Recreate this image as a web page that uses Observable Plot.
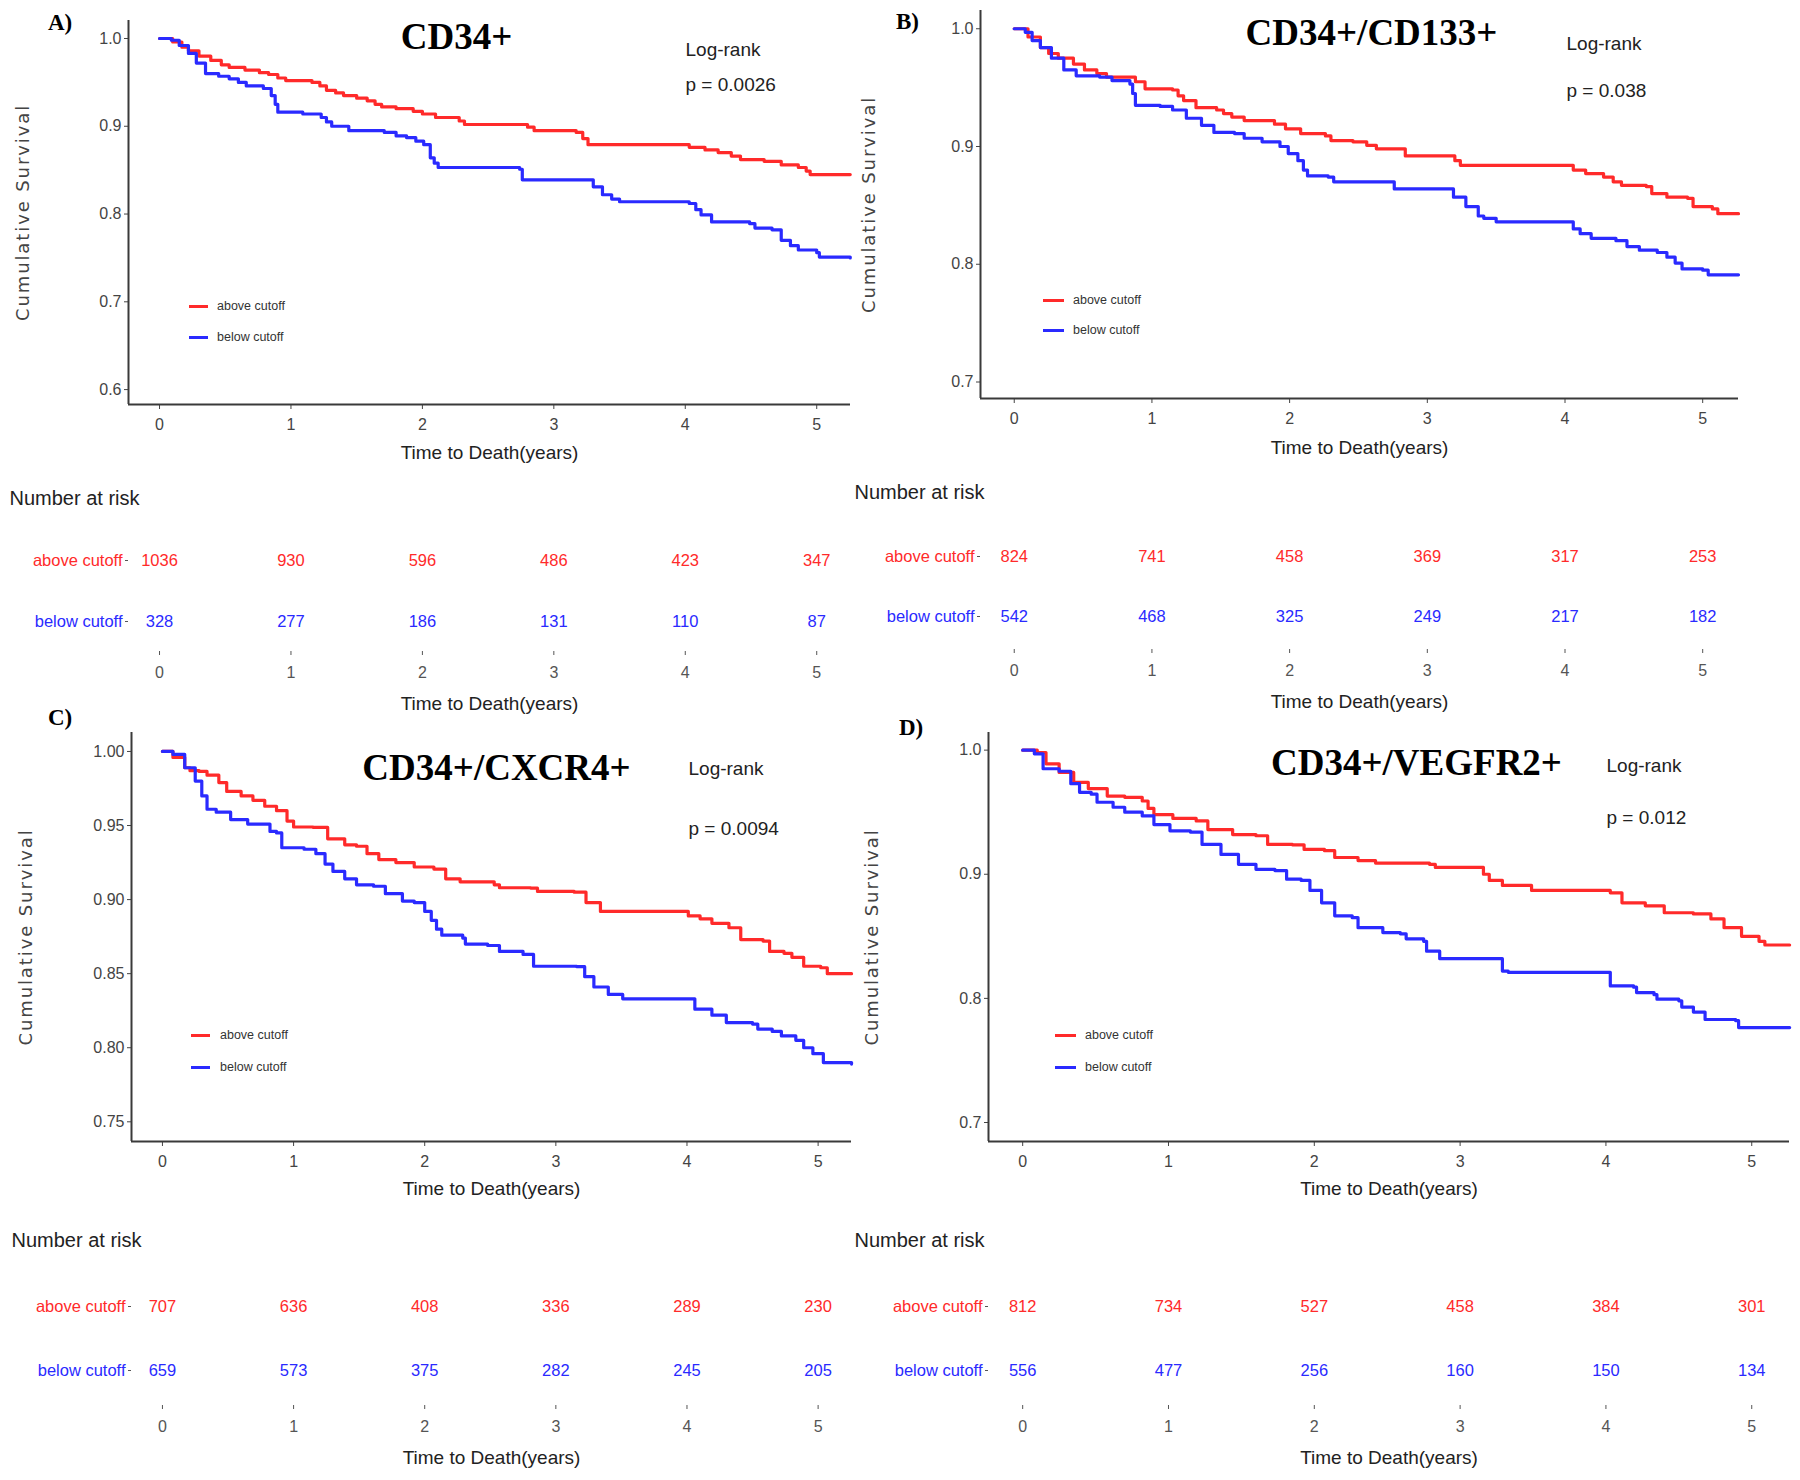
<!DOCTYPE html>
<html><head><meta charset="utf-8">
<script src="https://cdn.jsdelivr.net/npm/d3@7"></script>
<script src="https://cdn.jsdelivr.net/npm/@observablehq/plot@0.6"></script>
<style>
html,body{margin:0;padding:0;background:#fff;}
#fig{position:relative;width:1800px;height:1480px;background:#fff;overflow:hidden;}
.lg{position:absolute;height:20px;display:flex;align-items:center;font-family:"Liberation Sans",Arial,sans-serif;font-size:12.5px;color:#333;white-space:nowrap;}
.lg .sw{display:inline-block;height:3px;}
.tag{position:absolute;font-family:"Liberation Serif","Times New Roman",serif;font-weight:bold;font-size:23px;line-height:26px;color:#000;}
</style></head><body><div id="fig"></div>
<script>
// ---------------- data ----------------
const groups = ["above cutoff", "below cutoff"];
const years = [0, 1, 2, 3, 4, 5];
const titles = ["CD34+", "CD34+/CD133+", "CD34+/CXCR4+", "CD34+/VEGFR2+"];
const tags = ["A)", "B)", "C)", "D)"];
const pValues = ["p = 0.0026", "p = 0.038", "p = 0.0094", "p = 0.012"];

const riskAboveA = [1036, 930, 596, 486, 423, 347];
const riskBelowA = [328, 277, 186, 131, 110, 87];
const riskAboveB = [824, 741, 458, 369, 317, 253];
const riskBelowB = [542, 468, 325, 249, 217, 182];
const riskAboveC = [707, 636, 408, 336, 289, 230];
const riskBelowC = [659, 573, 375, 282, 245, 205];
const riskAboveD = [812, 734, 527, 458, 384, 301];
const riskBelowD = [556, 477, 256, 160, 150, 134];

const survAboveA = [[0,1.0],[0.1,0.996],[0.17,0.99],[0.22,0.986],[0.3,0.98],[0.39,0.975],[0.47,0.97],[0.53,0.967],[0.65,0.964],[0.76,0.961],[0.83,0.959],[0.9,0.955],[0.96,0.952],[1.16,0.950],[1.22,0.946],[1.27,0.941],[1.34,0.938],[1.40,0.935],[1.5,0.932],[1.58,0.929],[1.64,0.925],[1.69,0.922],[1.8,0.92],[1.93,0.917],[2.0,0.914],[2.10,0.910],[2.28,0.906],[2.32,0.902],[2.80,0.899],[2.85,0.895],[3.17,0.893],[3.22,0.886],[3.26,0.879],[3.98,0.879],[4.03,0.876],[4.15,0.873],[4.25,0.870],[4.35,0.866],[4.42,0.862],[4.6,0.860],[4.73,0.856],[4.86,0.853],[4.92,0.849],[4.95,0.845],[5.255,0.845]];
const survBelowA = [[0,1],[0.09,0.998],[0.15,0.992],[0.22,0.983],[0.28,0.972],[0.35,0.960],[0.45,0.957],[0.53,0.954],[0.6,0.95],[0.66,0.946],[0.79,0.943],[0.85,0.935],[0.88,0.925],[0.90,0.916],[1.09,0.914],[1.23,0.910],[1.27,0.905],[1.31,0.900],[1.44,0.895],[1.71,0.893],[1.80,0.889],[1.88,0.887],[1.95,0.883],[2.01,0.879],[2.06,0.864],[2.09,0.858],[2.12,0.853],[2.74,0.851],[2.76,0.839],[3.26,0.839],[3.3,0.831],[3.37,0.822],[3.44,0.817],[3.50,0.814],[4.03,0.812],[4.08,0.805],[4.12,0.799],[4.20,0.791],[4.49,0.789],[4.53,0.784],[4.66,0.782],[4.73,0.770],[4.80,0.764],[4.86,0.759],[5.0,0.756],[5.02,0.751],[5.255,0.750]];
const survAboveB = [[0,1],[0.1,0.993],[0.19,0.984],[0.25,0.979],[0.32,0.975],[0.43,0.970],[0.51,0.965],[0.6,0.962],[0.67,0.959],[0.88,0.955],[0.95,0.949],[1.15,0.948],[1.19,0.943],[1.23,0.939],[1.32,0.933],[1.47,0.931],[1.52,0.928],[1.58,0.925],[1.67,0.922],[1.89,0.919],[1.97,0.915],[2.08,0.911],[2.26,0.909],[2.30,0.905],[2.46,0.904],[2.56,0.901],[2.63,0.898],[2.80,0.898],[2.84,0.892],[3.17,0.892],[3.2,0.888],[3.24,0.884],[3.98,0.884],[4.06,0.880],[4.15,0.877],[4.28,0.874],[4.35,0.870],[4.41,0.867],[4.59,0.866],[4.63,0.860],[4.74,0.857],[4.89,0.856],[4.93,0.849],[5.07,0.847],[5.11,0.843],[5.26,0.843]];
const survBelowB = [[0,1],[0.08,0.997],[0.13,0.99],[0.19,0.984],[0.27,0.975],[0.36,0.965],[0.45,0.960],[0.62,0.959],[0.71,0.956],[0.84,0.953],[0.86,0.945],[0.88,0.935],[1.06,0.934],[1.15,0.931],[1.25,0.924],[1.36,0.918],[1.45,0.912],[1.60,0.911],[1.67,0.907],[1.80,0.904],[1.93,0.900],[1.99,0.894],[2.06,0.888],[2.10,0.88],[2.13,0.875],[2.28,0.874],[2.32,0.870],[2.74,0.870],[2.76,0.864],[3.13,0.864],[3.19,0.857],[3.28,0.849],[3.37,0.841],[3.41,0.839],[3.50,0.836],[4.00,0.836],[4.06,0.83],[4.11,0.826],[4.19,0.822],[4.37,0.820],[4.45,0.815],[4.54,0.812],[4.67,0.810],[4.74,0.806],[4.8,0.801],[4.85,0.796],[5.00,0.795],[5.04,0.791],[5.26,0.791]];
const survAboveC = [[0,1],[0.08,0.996],[0.17,0.989],[0.21,0.987],[0.28,0.9865],[0.34,0.984],[0.43,0.979],[0.49,0.973],[0.60,0.970],[0.69,0.967],[0.78,0.963],[0.87,0.960],[0.95,0.953],[1.0,0.949],[1.15,0.9487],[1.26,0.941],[1.39,0.937],[1.48,0.936],[1.56,0.931],[1.65,0.927],[1.78,0.925],[1.92,0.922],[2.07,0.9206],[2.16,0.914],[2.27,0.912],[2.53,0.910],[2.57,0.908],[2.81,0.9077],[2.86,0.9055],[3.14,0.905],[3.23,0.898],[3.34,0.892],[3.97,0.892],[4.01,0.889],[4.10,0.887],[4.19,0.884],[4.32,0.881],[4.41,0.873],[4.58,0.872],[4.63,0.865],[4.74,0.8637],[4.80,0.861],[4.89,0.855],[5.02,0.854],[5.07,0.850],[5.255,0.850]];
const survBelowC = [[0,1],[0.08,0.998],[0.17,0.989],[0.25,0.980],[0.3,0.97],[0.34,0.961],[0.41,0.959],[0.52,0.954],[0.65,0.951],[0.82,0.946],[0.87,0.945],[0.91,0.935],[1.08,0.934],[1.17,0.931],[1.24,0.924],[1.30,0.919],[1.39,0.914],[1.48,0.910],[1.61,0.909],[1.70,0.904],[1.83,0.899],[1.92,0.898],[2.00,0.892],[2.05,0.886],[2.09,0.88],[2.13,0.876],[2.29,0.874],[2.31,0.870],[2.48,0.869],[2.57,0.865],[2.75,0.863],[2.83,0.855],[3.16,0.8547],[3.22,0.848],[3.29,0.841],[3.40,0.836],[3.51,0.833],[3.99,0.833],[4.06,0.826],[4.19,0.822],[4.30,0.817],[4.50,0.816],[4.54,0.8126],[4.65,0.811],[4.72,0.808],[4.83,0.805],[4.89,0.800],[4.96,0.796],[5.04,0.790],[5.255,0.789]];
const survAboveD = [[0,1],[0.10,0.998],[0.16,0.989],[0.25,0.982],[0.35,0.974],[0.45,0.969],[0.58,0.963],[0.70,0.962],[0.82,0.959],[0.86,0.953],[0.90,0.948],[1.03,0.945],[1.19,0.943],[1.27,0.936],[1.44,0.932],[1.60,0.931],[1.68,0.924],[1.85,0.9237],[1.93,0.920],[2.07,0.919],[2.14,0.9135],[2.30,0.911],[2.42,0.909],[2.79,0.908],[2.83,0.9055],[3.12,0.9055],[3.16,0.9],[3.20,0.895],[3.29,0.891],[3.49,0.887],[4.03,0.885],[4.11,0.877],[4.27,0.8746],[4.40,0.869],[4.60,0.868],[4.72,0.864],[4.81,0.857],[4.93,0.850],[5.05,0.846],[5.09,0.843],[5.26,0.843]];
const survBelowD = [[0,1],[0.08,0.997],[0.14,0.985],[0.25,0.983],[0.33,0.973],[0.39,0.966],[0.47,0.9645],[0.51,0.958],[0.62,0.954],[0.70,0.950],[0.82,0.947],[0.90,0.940],[1.01,0.935],[1.15,0.934],[1.23,0.924],[1.36,0.916],[1.48,0.908],[1.60,0.904],[1.73,0.903],[1.81,0.896],[1.91,0.895],[1.97,0.887],[2.05,0.877],[2.14,0.8665],[2.26,0.865],[2.30,0.857],[2.47,0.853],[2.59,0.852],[2.63,0.848],[2.75,0.846],[2.77,0.838],[2.86,0.832],[3.20,0.832],[3.29,0.822],[3.33,0.821],[3.99,0.821],[4.03,0.810],[4.19,0.809],[4.21,0.8047],[4.33,0.803],[4.35,0.7994],[4.50,0.798],[4.52,0.793],[4.60,0.789],[4.68,0.783],[4.89,0.782],[4.91,0.7765],[5.26,0.7765]];

const yTicksA = [0.6, 0.7, 0.8, 0.9, 1.0];
const yTicksB = [0.7, 0.8, 0.9, 1.0];
const yTicksC = [0.75, 0.80, 0.85, 0.90, 0.95, 1.00];
const yTicksD = [0.7, 0.8, 0.9, 1.0];

// ---------------- styles & layout ----------------
const RED = "#ff2a2a", BLUE = "#2a2aff";
const SANS = '"Liberation Sans",Arial,sans-serif';
const WIDE = '"DejaVu Sans",Verdana,sans-serif';
const SERIF = '"Liberation Serif","Times New Roman",serif';

const panels = [
  {title: titles[0], tag: tags[0], p: pValues[0], above: survAboveA, below: survBelowA, rA: riskAboveA, rB: riskBelowA, yTicks: yTicksA, yFmt: ".1f"},
  {title: titles[1], tag: tags[1], p: pValues[1], above: survAboveB, below: survBelowB, rA: riskAboveB, rB: riskBelowB, yTicks: yTicksB, yFmt: ".1f"},
  {title: titles[2], tag: tags[2], p: pValues[2], above: survAboveC, below: survBelowC, rA: riskAboveC, rB: riskBelowC, yTicks: yTicksC, yFmt: ".2f"},
  {title: titles[3], tag: tags[3], p: pValues[3], above: survAboveD, below: survBelowD, rA: riskAboveD, rB: riskBelowD, yTicks: yTicksD, yFmt: ".1f"}
];

const layout = [
  {left: 0, top: 0, w: 900, h: 470, mL: 128, mR: 50, mT: 20, mB: 66, x: [-0.236, 5.257], y: [0.583, 1.0205],
   title: [328, 17], lr: [557, 29, 64], yt: -105, xt: 48, legend: [189, 208, 217, 306, 337], tag: [48, 23],
   risk: {top: 470, h: 250, rows: [90, 151], mB: 69, header: [-119, 28]}},
  {left: 840, top: 0, w: 960, h: 470, mL: 140, mR: 62, mT: 10, mB: 72, x: [-0.245, 5.26], y: [0.686, 1.0155],
   title: [391, 23], lr: [586, 33, 80], yt: -111, xt: 49, legend: [1043, 1064, 1073, 300, 330], tag: [896, 22],
   risk: {top: 470, h: 250, rows: [86, 146.5], mB: 71, header: [-126, 22]}},
  {left: 0, top: 720, w: 900, h: 480, mL: 131, mR: 49, mT: 12, mB: 59, x: [-0.236, 5.2546], y: [0.7367, 1.0128],
   title: [365, 36], lr: [557, 36, 96], yt: -105, xt: 47, legend: [191, 210, 220, 1035, 1067], tag: [48, 718],
   risk: {top: 1200, h: 280, rows: [106, 170], mB: 75, header: [-120, 40]}},
  {left: 840, top: 720, w: 960, h: 480, mL: 148, mR: 11, mT: 12, mB: 59, x: [-0.2344, 5.259], y: [0.6847, 1.0142],
   title: [428, 31], lr: [618, 33, 85], yt: -116, xt: 47, legend: [1055, 1076, 1085, 1035, 1067], tag: [899, 728],
   risk: {top: 1200, h: 280, rows: [106, 170], mB: 75, header: [-134, 40]}}
];

const fig = document.getElementById("fig");
function place(node, left, top) {
  node.style.position = "absolute";
  node.style.left = left + "px";
  node.style.top = top + "px";
  fig.appendChild(node);
}
function survTable(above, below) {
  return [
    ...above.map(([t, s]) => ({group: groups[0], t, s})),
    ...below.map(([t, s]) => ({group: groups[1], t, s}))
  ];
}
function riskTable(above, below) {
  return years.flatMap((yr, k) => [
    {group: groups[0], t: yr, n: above[k]},
    {group: groups[1], t: yr, n: below[k]}
  ]);
}
const label = d => d;

panels.forEach((P, i) => {
  const L = layout[i];
  const chart = Plot.plot({
    width: L.w, height: L.h,
    marginLeft: L.mL, marginRight: L.mR, marginTop: L.mT, marginBottom: L.mB,
    style: {fontFamily: SANS, fontSize: "16px", color: "#444", background: "transparent", overflow: "visible"},
    x: {domain: L.x, ticks: years, tickFormat: d3.format("d"), tickSize: 5, tickPadding: 9, label: null},
    y: {domain: L.y, ticks: P.yTicks, tickFormat: d3.format(P.yFmt), tickSize: 4, tickPadding: 3, label: null},
    color: {domain: groups, range: [RED, BLUE]},
    marks: [
      Plot.ruleX([L.x[0]], {stroke: "#3a3a3a", strokeWidth: 2}),
      Plot.ruleY([L.y[0]], {stroke: "#3a3a3a", strokeWidth: 2}),
      Plot.line(survTable(P.above, P.below), {x: "t", y: "s", stroke: "group", curve: "step-after", strokeWidth: 3.2}),
      Plot.text([P.title], {text: label, frameAnchor: "top-left", textAnchor: "middle", lineAnchor: "middle", dx: L.title[0], dy: L.title[1], fontFamily: SERIF, fontWeight: "bold", fontSize: 37, fill: "#000"}),
      Plot.text(["Log-rank"], {text: label, frameAnchor: "top-left", textAnchor: "start", lineAnchor: "middle", dx: L.lr[0], dy: L.lr[1], fontSize: 19, fill: "#222"}),
      Plot.text([P.p], {text: label, frameAnchor: "top-left", textAnchor: "start", lineAnchor: "middle", dx: L.lr[0], dy: L.lr[2], fontSize: 19, fill: "#222"}),
      Plot.text(["Cumulative Survival"], {text: label, frameAnchor: "left", textAnchor: "middle", lineAnchor: "middle", rotate: -90, dx: L.yt, fontFamily: WIDE, fontSize: 18, fill: "#444"}),
      Plot.text(["Time to Death(years)"], {text: label, frameAnchor: "bottom", textAnchor: "middle", lineAnchor: "middle", dy: L.xt, fontSize: 19, fill: "#222"})
    ]
  });
  d3.select(chart).selectAll("text").filter(function () { return this.textContent === "Cumulative Survival"; }).attr("letter-spacing", "1.9px");
  place(chart, L.left, L.top);

  const R = L.risk;
  const risk = Plot.plot({
    width: L.w, height: R.h,
    marginLeft: L.mL, marginRight: L.mR, marginTop: 0, marginBottom: R.mB,
    style: {fontFamily: SANS, fontSize: "16px", color: "#555", background: "transparent", overflow: "visible"},
    x: {domain: L.x, ticks: years, tickFormat: d3.format("d"), tickSize: 4, tickPadding: 11, label: null},
    y: {type: "point", domain: groups, range: R.rows, padding: 0, tickSize: 3, tickPadding: 2, tickFormat: () => "", label: null},
    color: {domain: groups, range: [RED, BLUE]},
    marks: [
      Plot.text(riskTable(P.rA, P.rB), {x: "t", y: "group", text: d => String(d.n), fill: "group", fontSize: 16.5}),
      Plot.text(groups, {y: label, text: label, frameAnchor: "left", textAnchor: "end", lineAnchor: "middle", dx: -6, fill: label, fontSize: 16.5}),
      Plot.text(["Number at risk"], {text: label, frameAnchor: "top-left", textAnchor: "start", lineAnchor: "middle", dx: R.header[0], dy: R.header[1], fontSize: 20, fill: "#222"}),
      Plot.text(["Time to Death(years)"], {text: label, frameAnchor: "bottom", textAnchor: "middle", lineAnchor: "middle", dy: 52, fontSize: 19, fill: "#222"})
    ]
  });
  place(risk, L.left, R.top);

  // legend (HTML)
  const [lx0, lx1, tx, yRed, yBlue] = L.legend;
  [[groups[0], RED, yRed], [groups[1], BLUE, yBlue]].forEach(([g, c, yy]) => {
    const d = document.createElement("div");
    d.className = "lg";
    const sw = document.createElement("span");
    sw.className = "sw";
    sw.style.width = (lx1 - lx0) + "px";
    sw.style.background = c;
    sw.style.marginRight = (tx - lx1) + "px";
    d.appendChild(sw);
    d.appendChild(document.createTextNode(g));
    place(d, lx0, yy - 10);
  });

  const t = document.createElement("div");
  t.className = "tag";
  t.textContent = P.tag;
  place(t, L.tag[0], L.tag[1] - 13);
});
</script></body></html>
